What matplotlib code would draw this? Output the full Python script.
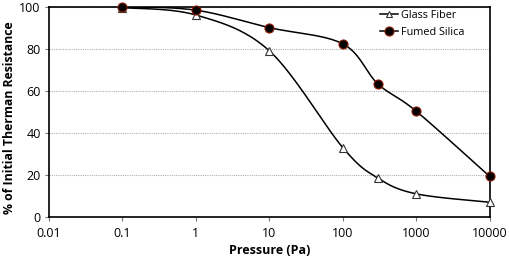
import matplotlib
matplotlib.use("Agg")
import matplotlib.pyplot as plt
import numpy as np

plt.rcParams['font.family'] = ['Open Sans', 'DejaVu Sans']

# datos
presion = [0.1, 1, 10, 100, 300, 1000, 10000]
glass_fiber = [99.5, 96, 79, 33, 18.5, 11, 7]
fumed_silica = [100, 98.3, 90, 82.3, 63.3, 50.3, 19.3]

x_ticks = [0.01, 0.1, 1, 10, 100, 1000, 10000]
x_tick_labels = ['0.01', '0.1', '1', '10', '100', '1000', '10000']
y_ticks = [0, 20, 40, 60, 80, 100]


def suavizar(xs, ys, sx=73.4, sy=2.1, n=40):
    # linea suavizada tipo Excel (Bezier) en coordenadas de pantalla
    u = np.log10(xs) * sx
    v = np.array(ys) * sy
    pts = np.column_stack([u, v])
    pts = np.vstack([pts[0], pts, pts[-1]])
    cu, cv = [], []
    t = np.linspace(0, 1, n)
    for i in range(1, len(pts) - 2):
        p0, p3 = pts[i], pts[i + 1]
        p1 = p0 + (pts[i + 1] - pts[i - 1]) / 6
        p2 = p3 - (pts[i + 2] - pts[i]) / 6
        c = ((1 - t) ** 3)[:, None] * p0 + (3 * (1 - t) ** 2 * t)[:, None] * p1 \
            + (3 * (1 - t) * t ** 2)[:, None] * p2 + (t ** 3)[:, None] * p3
        cu.append(c[:, 0])
        cv.append(c[:, 1])
    cu = np.concatenate(cu)
    cv = np.concatenate(cv)
    return 10 ** (cu / sx), cv / sy


fig = plt.figure(figsize=(5.1, 2.63), dpi=100)
ax = fig.add_axes([0.096, 0.175, 0.864, 0.80])

gx, gy = suavizar(presion, glass_fiber)
fx, fy = suavizar(presion, fumed_silica)
ax.plot(gx, gy, color='black', lw=1.1, zorder=3)
ax.plot(fx, fy, color='black', lw=1.1, zorder=3)
ax.plot(presion, glass_fiber, ls='none', marker='^', ms=6, mfc='white',
        mec='#333333', mew=0.8, zorder=4, clip_on=False)
ax.plot(presion, fumed_silica, ls='none', marker='o', ms=6.5, mfc='black',
        mec='#8b1a00', mew=0.8, zorder=5, clip_on=False)

# entradas de leyenda
ax.plot([], [], color='black', lw=1.1, marker='^', ms=5, mfc='white',
        mec='#333333', mew=0.8, label='Glass Fiber')
ax.plot([], [], color='black', lw=1.1, marker='o', ms=6.5, mfc='black',
        mec='#8b1a00', mew=0.8, label='Fumed Silica')

ax.set_xscale('log')
ax.set_xlim(0.01, 10000)
ax.set_ylim(0, 100)
ax.set_xticks(x_ticks)
ax.set_xticklabels(x_tick_labels)
ax.xaxis.set_minor_locator(matplotlib.ticker.NullLocator())
ax.set_yticks(y_ticks)
ax.tick_params(axis='x', length=3, width=0.8, color='#777777', labelsize=9, pad=4)
ax.tick_params(axis='y', length=3, width=0.8, color='#777777', labelsize=9, pad=3)
ax.grid(True, axis='y', color='#b0b0b0', ls=(0, (1, 1)), lw=0.8)
ax.set_axisbelow(True)
for s in ax.spines.values():
    s.set_linewidth(1.2)
    s.set_color('black')

ax.set_xlabel('Pressure (Pa)', fontsize=9, fontweight='bold', labelpad=3)
ax.set_ylabel('% of Initial Therman Resistance', fontsize=8.8, fontweight='bold')
ax.yaxis.set_label_coords(-0.074, 0.47)

ax.legend(loc='upper left', frameon=False, fontsize=7.8, handlelength=1.7,
          handletextpad=0.2, labelspacing=0.55, borderaxespad=0, borderpad=0,
          bbox_to_anchor=(380 / 510, 1 - 10 / 263), bbox_transform=fig.transFigure)

fig.savefig('out.png', dpi=100)
